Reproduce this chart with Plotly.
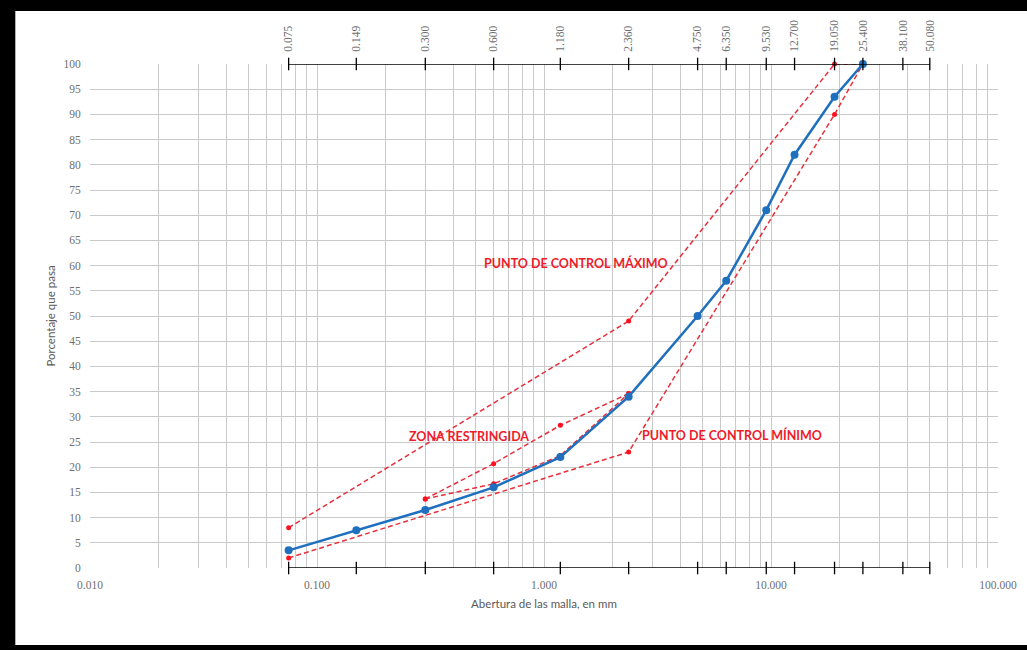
import math
import plotly.graph_objects as go

# ---- data ----
sieve_sizes = [0.075, 0.149, 0.300, 0.600, 1.180, 2.360, 4.750, 6.350, 9.530, 12.700, 19.050, 25.400, 38.100, 50.080]
sample_sizes = [0.075, 0.149, 0.300, 0.600, 1.180, 2.360, 4.750, 6.350, 9.530, 12.700, 19.050, 25.400]
sample_pass = [3.5, 7.5, 11.5, 16.0, 22.0, 34.0, 50.0, 57.0, 71.0, 82.0, 93.5, 100.0]

ctrl_sizes = [0.075, 2.360, 19.050, 25.400]
ctrl_max = [8.0, 49.0, 100.0, 100.0]
ctrl_min = [2.0, 23.0, 90.0, 100.0]

zone_sizes = [0.300, 0.600, 1.180, 2.360]
zone_upper = [13.7, 20.7, 28.3, 34.6]
zone_lower = [13.7, 16.7, 22.3, 34.6]

decades = [0.01, 0.1, 1.0, 10.0]
decade_labels = ["0.010", "0.100", "1.000", "10.000"]
last_label = "100.000"

labels_txt = {
    "max": "PUNTO DE CONTROL MÁXIMO",
    "min": "PUNTO DE CONTROL MÍNIMO",
    "zone": "ZONA RESTRINGIDA",
}

# ---- ticks for log axis (gridlines at every 1..9 multiple) ----
tickvals, ticktext = [], []
for d, lab in zip(decades, decade_labels):
    for m in range(1, 10):
        tickvals.append(d * m)
        ticktext.append(lab if m == 1 else "")
tickvals.append(100.0)
ticktext.append(last_label)

RED = "#e8303c"
BLUE = "#1f6fbf"
GRAY_TXT = "#6e6e6e"
DASH = "5px,3px"

fig = go.Figure()

# sieve reference lines (bottom and top) with tick marks
fig.add_trace(go.Scatter(
    x=sieve_sizes, y=[0] * len(sieve_sizes), mode="lines+markers",
    line=dict(color="black", width=1.5),
    marker=dict(symbol="line-ns", size=9, line=dict(color="black", width=1.3)),
    cliponaxis=False, hoverinfo="skip", showlegend=False))
fig.add_trace(go.Scatter(
    x=sieve_sizes, y=[100] * len(sieve_sizes), mode="lines+markers",
    xaxis="x2",
    line=dict(color="black", width=1.5),
    marker=dict(symbol="line-ns", size=9, line=dict(color="black", width=1.3)),
    cliponaxis=False, hoverinfo="skip", showlegend=False))

# control points
for yy in (ctrl_max, ctrl_min):
    fig.add_trace(go.Scatter(
        x=ctrl_sizes, y=yy, mode="lines+markers",
        line=dict(color=RED, width=1.5, dash=DASH),
        marker=dict(color="#ff1020", size=5),
        cliponaxis=False, showlegend=False))

# restricted zone
for yy in (zone_upper, zone_lower):
    fig.add_trace(go.Scatter(
        x=zone_sizes, y=yy, mode="lines+markers",
        line=dict(color=RED, width=1.5, dash=DASH),
        marker=dict(color="#ff1020", size=5),
        cliponaxis=False, showlegend=False))

# sample gradation
fig.add_trace(go.Scatter(
    x=sample_sizes, y=sample_pass, mode="lines+markers",
    line=dict(color=BLUE, width=2.5),
    marker=dict(color=BLUE, size=8),
    cliponaxis=False, showlegend=False))

# annotations
ann_font = dict(family="Lato", size=12.5, color="#ee1c2a")
fig.add_annotation(x=math.log10(1.38), y=60.5, text="<b>%s</b>" % labels_txt["max"],
                   showarrow=False, font=ann_font)
fig.add_annotation(x=math.log10(0.468), y=26.0, text="<b>%s</b>" % labels_txt["zone"],
                   showarrow=False, font=ann_font)
fig.add_annotation(x=math.log10(6.73), y=26.4, text="<b>%s</b>" % labels_txt["min"],
                   showarrow=False, font=ann_font)

# frame: black bars on left, top and bottom
L, T = 90, 64
W, H = 908, 504
def px_x(p):
    return (p - L) / W
def px_y(p):
    return (T + H - p) / H

frame = dict(type="rect", xref="paper", yref="paper", fillcolor="black",
             line=dict(width=0), layer="below")
fig.add_shape(x0=px_x(-5), x1=px_x(15), y0=px_y(660), y1=px_y(-10), **frame)
fig.add_shape(x0=px_x(-5), x1=px_x(1040), y0=px_y(11), y1=px_y(-10), **frame)
fig.add_shape(x0=px_x(-5), x1=px_x(1040), y0=px_y(660), y1=px_y(645), **frame)
fig.add_shape(type="line", xref="paper", yref="paper",
              x0=px_x(15.5), x1=px_x(15.5), y0=px_y(645), y1=px_y(11),
              line=dict(color="#b0b0b0", width=1), layer="below")

fig.update_layout(
    width=1027, height=650,
    margin=dict(l=L, r=1027 - L - W, t=T, b=650 - T - H),
    paper_bgcolor="white", plot_bgcolor="white",
    showlegend=False,
    xaxis=dict(
        type="log", range=[-2, 2], automargin=False,
        tickvals=tickvals, ticktext=ticktext,
        showgrid=True, gridcolor="#cacaca", gridwidth=1,
        ticks="outside", ticklen=6, tickcolor="rgba(0,0,0,0)",
        tickfont=dict(family="Liberation Serif", size=11.5, color=GRAY_TXT),
        zeroline=False, showline=False,
        title=dict(text="Abertura de las malla, en mm",
                   font=dict(family="Lato", size=11.5, color="#595959"), standoff=10),
    ),
    xaxis2=dict(
        type="log", range=[-2, 2], overlaying="x", side="top", automargin=False,
        tickvals=sieve_sizes, ticktext=["%.3f" % v for v in sieve_sizes],
        tickangle=-90, showgrid=False, zeroline=False, showline=False,
        ticks="outside", ticklen=9, tickcolor="rgba(0,0,0,0)",
        tickfont=dict(family="Liberation Serif", size=11.5, color=GRAY_TXT),
    ),
    yaxis=dict(
        range=[0, 100], dtick=5, tick0=0, automargin=False,
        showgrid=True, gridcolor="#cacaca", gridwidth=1,
        ticks="outside", ticklen=6, tickcolor="rgba(0,0,0,0)",
        tickfont=dict(family="Liberation Serif", size=11.5, color=GRAY_TXT),
        zeroline=False, showline=False,
        title=dict(text="Porcentaje que pasa",
                   font=dict(family="Lato", size=11.5, color="#595959"), standoff=5),
    ),
)

fig.write_html(
    "out.html", config={"displayModeBar": False},
    post_script=("document.body.style.margin='0';"
                 "document.body.style.overflow='hidden';"
                 "document.documentElement.style.overflow='hidden';"
                 "document.body.style.background='white';"
                 "document.documentElement.style.background='white';"))
